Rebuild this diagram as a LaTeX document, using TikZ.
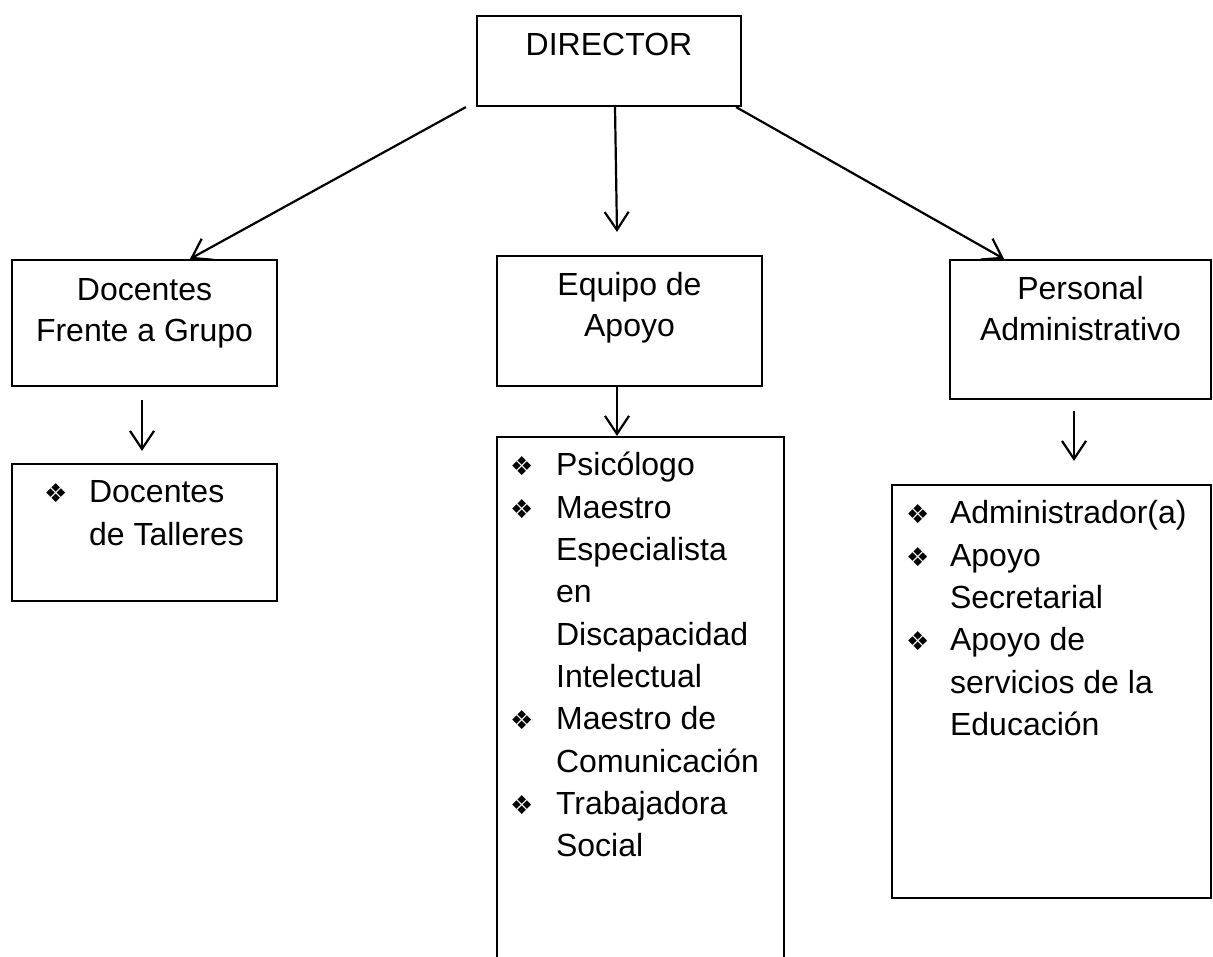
\documentclass[tikz,border=0pt]{standalone}
\usepackage{fontspec}
\setmainfont{Liberation Sans}
\newfontfamily\dingfont{DejaVu Sans}
\usetikzlibrary{arrows.meta}
\newcommand{\bul}{{\dingfont\fontsize{26}{26}\selectfont ❖}}

\begin{document}
\begin{tikzpicture}[
    x=1pt, y=-1pt,
    unit/.style={rectangle, draw=black, line width=2.2pt, inner sep=0pt},
    title/.style={anchor=base, inner sep=0pt,
        font=\fontsize{32}{41}\selectfont},
    list/.style={anchor=base west, inner sep=0pt,
        font=\fontsize{32}{42.3}\selectfont},
    link/.style={line width=2.2pt, -{Straight Barb[length=18pt, width=24pt]}}
]
    \clip (0,0) rectangle (1213,957);
    \node[unit, minimum width=264pt, minimum height=90pt] (director) at (609,61) {};
    \node[unit, minimum width=265pt, minimum height=126pt] (docentes) at (144.5,323) {};
    \node[unit, minimum width=265pt, minimum height=137pt] (talleres) at (144.5,532.5) {};
    \node[unit, minimum width=265pt, minimum height=130pt] (equipo) at (629.5,321) {};
    \node[unit, minimum width=287pt, minimum height=540pt] (apoyos) at (640.5,707) {};
    \node[unit, minimum width=261pt, minimum height=139pt] (personal) at (1080.5,329.5) {};
    \node[unit, minimum width=319pt, minimum height=413pt] (admins) at (1051.5,691.5) {};

    \node[title] (directorT) at ([yshift=-41pt]director.north) {DIRECTOR};
    \node[title] (docentesT) at ([yshift=-42pt]docentes.north)
        {\begin{tabular}[t]{@{}c@{}}Docentes\\Frente a Grupo\end{tabular}};
    \node[title] (equipoT) at ([yshift=-41pt]equipo.north)
        {\begin{tabular}[t]{@{}c@{}}Equipo de\\Apoyo\end{tabular}};
    \node[title] (personalT) at ([yshift=-41pt]personal.north)
        {\begin{tabular}[t]{@{}c@{}}Personal\\Administrativo\end{tabular}};

    \node[list] (talleresL) at ([xshift=33pt,yshift=-40pt]talleres.north west) {%
        \begin{tabular}[t]{@{}p{45pt}@{}l@{}}
            \bul & Docentes\\
                 & de Talleres
        \end{tabular}};
    \node[list] (apoyosL) at ([xshift=14pt,yshift=-40pt]apoyos.north west) {%
        \begin{tabular}[t]{@{}p{46pt}@{}l@{}}
            \bul & Psicólogo\\
            \bul & Maestro\\
                 & Especialista\\
                 & en\\
                 & Discapacidad\\
                 & Intelectual\\
            \bul & Maestro de\\
                 & Comunicación\\
            \bul & Trabajadora\\
                 & Social
        \end{tabular}};
    \node[list] (adminsL) at ([xshift=15pt,yshift=-40pt]admins.north west) {%
        \begin{tabular}[t]{@{}p{44pt}@{}l@{}}
            \bul & Administrador(a)\\
            \bul & Apoyo\\
                 & Secretarial\\
            \bul & Apoyo de\\
                 & servicios de la\\
                 & Educación
        \end{tabular}};

    \draw[link] ([xshift=-10pt]director.south west) -- ([xshift=45.5pt]docentes.north);
    \draw[link] ([xshift=6pt]director.south) -- ([xshift=-12.5pt,yshift=23pt]equipo.north);
    \draw[link] ([xshift=-6pt]director.south east) -- ([xshift=-76.5pt]personal.north);
    \draw[link] ([xshift=-2.5pt,yshift=-13pt]docentes.south) -- ([xshift=-2.5pt,yshift=12pt]talleres.north);
    \draw[link] ([xshift=-12.5pt]equipo.south) -- ([xshift=-23.5pt]apoyos.north);
    \draw[link] ([xshift=-6.5pt,yshift=-11pt]personal.south) -- ([xshift=22.5pt,yshift=23pt]admins.north);
\end{tikzpicture}
\end{document}
